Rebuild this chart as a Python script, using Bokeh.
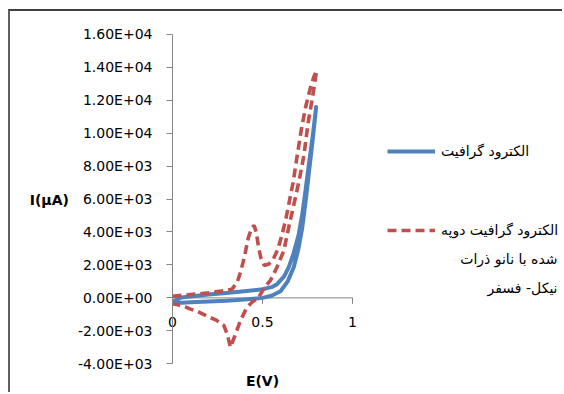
from bokeh.plotting import figure
from bokeh.models import FixedTicker, Legend, LegendItem, Label, Range1d
from bokeh.embed import file_html
from bokeh.resources import INLINE

# ---------------- data ----------------
# Graphite electrode (blue, solid): forward then reverse scan
blue_E = [0, 0.05, 0.1, 0.2, 0.3, 0.4, 0.5, 0.55, 0.6, 0.64, 0.674, 0.7, 0.72, 0.74, 0.76, 0.78, 0.798,
          0.78, 0.76, 0.74, 0.72, 0.7, 0.67, 0.646, 0.62, 0.6, 0.58, 0.55, 0.5, 0.4, 0.3, 0.2, 0.1, 0.05, 0]
blue_I = [-230, -290, -270, -220, -170, -100, 0, 130, 400, 1000, 1870, 3000, 4200, 5900, 7800, 9700, 11580,
          9900, 8300, 6600, 5000, 3800, 2600, 1870, 1300, 1060, 820, 650, 520, 400, 300, 200, 90, 20, -230]

# Ni-P nanoparticle doped graphite electrode (red, dashed)
red_E = [0, 0.05, 0.1, 0.15, 0.2, 0.25, 0.3, 0.33, 0.36, 0.38, 0.4, 0.42, 0.44, 0.453, 0.465, 0.478, 0.49,
         0.51, 0.535, 0.56, 0.585, 0.61, 0.63, 0.65, 0.67, 0.693, 0.717, 0.74, 0.765, 0.785, 0.8,
         0.79, 0.775, 0.754, 0.73, 0.705, 0.678, 0.646, 0.619, 0.581, 0.544, 0.507, 0.48, 0.46, 0.443,
         0.42, 0.405, 0.378, 0.35, 0.322, 0.304, 0.285, 0.24, 0.2, 0.146, 0.1, 0.074, 0.03, 0]
red_I = [90, 150, 200, 250, 310, 380, 450, 520, 960, 1650, 2500, 3600, 4250, 4400, 4000, 3100, 2450,
         1970, 2050, 2350, 2950, 3900, 4800, 5900, 7000, 8650, 10300, 11600, 12700, 13400, 13800,
         13000, 12000, 10670, 8650, 7200, 5850, 4300, 2880, 1870, 1060, 560, 50, -120, -250,
         -500, -760, -1370, -2200, -3000, -2200, -1670, -1330, -1150, -860, -680, -560, -420, -350]

y_ticks = [-4000, -2000, 0, 2000, 4000, 6000, 8000, 10000, 12000, 14000, 16000]
y_tick_labels = ["-4.00E+03", "-2.00E+03", "0.00E+00", "2.00E+03", "4.00E+03", "6.00E+03",
                 "8.00E+03", "1.00E+04", "1.20E+04", "1.40E+04", "1.60E+04"]
x_ticks = [0, 0.5, 1]
x_tick_labels = ["0", "0.5", "1"]

legend_labels = ["الکترود گرافیت", "الکترود گرافیت دوپه"]
legend_extra_lines = ["شده با نانو ذرات", "نیکل- فسفر"]

x_title = "E(V)"
y_title = "I(μA)"

# ---------------- styling / layout ----------------
FONT = "DejaVu Sans"
AXIS_GRAY = "#868686"
BLUE = "#4F81BD"
RED = "#C0504D"

# page geometry (pixels)
CANVAS_X0, CANVAS_Y0 = 10, 11          # page position of the canvas (margin + border)
W, H = 564 - CANVAS_X0, 394 - CANVAS_Y0
LEFT = 172 - CANVAS_X0                 # page x of E = 0
FRAME_BOTTOM_PAGE = 388
BOTTOM = 394 - FRAME_BOTTOM_PAGE
PX_PER_V = 180.0                       # page x of E = 1 is 352
TOP_TICK_PX, BOT_TICK_PX = 33.7, 363.3 # page y of the first / last y tick

frame_w = W - LEFT
frame_h = H - BOTTOM
px_per_uA = (BOT_TICK_PX - TOP_TICK_PX) / (y_ticks[-1] - y_ticks[0])
y_hi = y_ticks[-1] + (TOP_TICK_PX - CANVAS_Y0) / px_per_uA
y_lo = y_hi - frame_h / px_per_uA


def page_y_to_data(y_px):
    return y_hi - (y_px - CANVAS_Y0) / px_per_uA


def page_x_to_data(x_px):
    return (x_px - (CANVAS_X0 + LEFT)) / PX_PER_V


p = figure(width=W, height=H, output_backend="svg", toolbar_location=None,
           x_range=Range1d(0, frame_w / PX_PER_V), y_range=Range1d(y_lo, y_hi),
           min_border_left=LEFT, min_border_right=0, min_border_top=0, min_border_bottom=BOTTOM,
           margin=(9, 0, 0, 8),
           styles={"border-left": "2px solid #5f5f5f", "border-top": "2px solid #404040"})
p.grid.visible = False
p.outline_line_color = None
p.background_fill_color = "white"
p.border_fill_color = "white"

# y axis (only between the first and last tick)
p.yaxis.bounds = (y_ticks[0], y_ticks[-1])
p.yaxis.ticker = FixedTicker(ticks=y_ticks)
p.yaxis.major_label_overrides = {t: l for t, l in zip(y_ticks, y_tick_labels)}
p.yaxis.axis_line_color = AXIS_GRAY
p.yaxis.major_tick_line_color = AXIS_GRAY
p.yaxis.major_tick_out = 6
p.yaxis.major_tick_in = 0
p.yaxis.minor_tick_line_color = None
p.yaxis.major_label_standoff = 14
p.yaxis.major_label_text_font = FONT
p.yaxis.major_label_text_font_size = "14px"
p.yaxis.major_label_text_color = "black"
p.yaxis.axis_label = y_title
p.yaxis.axis_label_orientation = "horizontal"
p.yaxis.axis_label_text_font = FONT
p.yaxis.axis_label_text_font_style = "bold"
p.yaxis.axis_label_text_font_size = "14px"
p.yaxis.axis_label_text_color = "black"
p.yaxis.axis_label_standoff = 6

# x axis: only its tick labels, pulled up to sit under the zero line
p.xaxis.ticker = FixedTicker(ticks=x_ticks)
p.xaxis.major_label_overrides = {t: l for t, l in zip(x_ticks, x_tick_labels)}
p.xaxis.axis_line_color = None
p.xaxis.major_tick_line_color = None
p.xaxis.major_tick_out = 0
p.xaxis.major_tick_in = 0
p.xaxis.minor_tick_line_color = None
p.xaxis.major_label_standoff = -72
p.xaxis.major_label_text_font = FONT
p.xaxis.major_label_text_font_size = "14px"
p.xaxis.major_label_text_color = "black"

# horizontal axis line at I = 0 (from first to last x tick) with its tick marks
p.segment(x0=[x_ticks[0]], y0=[0], x1=[x_ticks[-1]], y1=[0], line_color=AXIS_GRAY, line_width=1)
tick_len = 6 / px_per_uA
p.segment(x0=x_ticks, y0=[0] * len(x_ticks), x1=x_ticks, y1=[-tick_len] * len(x_ticks),
          line_color=AXIS_GRAY, line_width=1)

# x axis title, centred under the E axis
p.add_layout(Label(x=(x_ticks[0] + x_ticks[-1]) / 2, y=page_y_to_data(380), text=x_title,
                   text_align="center", text_baseline="middle", text_font=FONT,
                   text_font_style="bold", text_font_size="14px", text_color="black"))

# curves
r_blue = p.line(blue_E, blue_I, line_color=BLUE, line_width=4, line_join="round")
r_red = p.line(red_E, red_I, line_color=RED, line_width=3.6, line_dash="9 5")

legend = Legend(items=[LegendItem(label=legend_labels[0], renderers=[r_blue]),
                       LegendItem(label=legend_labels[1], renderers=[r_red])],
                location=(387 - (CANVAS_X0 + LEFT), FRAME_BOTTOM_PAGE - 240),
                glyph_width=48, glyph_height=20, label_height=20,
                spacing=59, padding=0, margin=0, border_line_color=None,
                background_fill_alpha=0, label_standoff=6,
                label_text_font=FONT, label_text_font_size="14px", label_text_color="black")
p.add_layout(legend)

# continuation lines of the second legend entry, right aligned
for i, txt in enumerate(legend_extra_lines):
    p.add_layout(Label(x=page_x_to_data(557), y=page_y_to_data(258 + 29 * i), text=txt,
                       text_align="right", text_baseline="middle",
                       text_font=FONT, text_font_size="14px", text_color="black"))

open("out.html", "w").write(file_html(p, INLINE))
